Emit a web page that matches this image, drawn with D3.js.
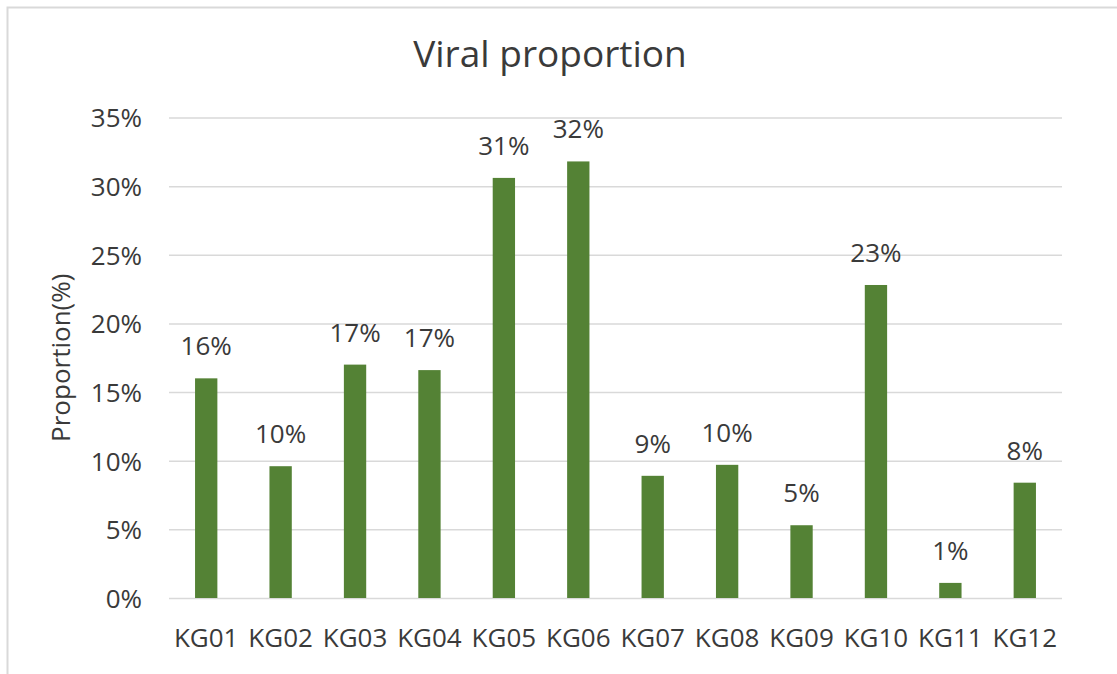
<!DOCTYPE html>
<html>
<head>
<meta charset="utf-8">
<script src="https://cdn.jsdelivr.net/npm/d3@7"></script>
<style>
  html, body { margin: 0; padding: 0; background: #fff; }
  svg { display: block; }
  text { font-family: "Open Sans", "Noto Sans", sans-serif; fill: #3a3a3a; }
</style>
</head>
<body>
<svg id="chart" width="1117" height="674"></svg>
<script>
// Viral proportion per sample group
const categories = ["KG01", "KG02", "KG03", "KG04", "KG05", "KG06", "KG07", "KG08", "KG09", "KG10", "KG11", "KG12"];
const proportions = [0.160, 0.096, 0.170, 0.166, 0.306, 0.318, 0.089, 0.097, 0.053, 0.228, 0.011, 0.084];
const yTicks = [0, 0.05, 0.10, 0.15, 0.20, 0.25, 0.30, 0.35];
const chartTitle = "Viral proportion";
const yTitle = "Proportion(%)";

const svg = d3.select("#chart");
const W = 1117, H = 674;
const plot = { left: 169, right: 1062, top: 117.5, bottom: 598 };

// outer frame (top and left edges visible)
svg.append("path")
  .attr("d", `M7.5,${H} V7.5 H${W}`)
  .attr("fill", "none")
  .attr("stroke", "#d9d9d9")
  .attr("stroke-width", 2);

const x = d3.scaleBand()
  .domain(categories)
  .range([plot.left, plot.right])
  .paddingInner(0.70)
  .paddingOuter(0.35);

const y = d3.scaleLinear()
  .domain([0, 0.35])
  .range([plot.bottom, plot.top]);

const pct = d3.format(".0%");

// horizontal gridlines + tick labels
const yAxis = d3.axisLeft(y)
  .tickValues(yTicks)
  .tickFormat(pct)
  .tickSize(-(plot.right - plot.left))
  .tickPadding(27);

const gy = svg.append("g")
  .attr("transform", `translate(${plot.left},0)`)
  .call(yAxis);
gy.select(".domain").remove();
gy.selectAll(".tick line").attr("stroke", "#d9d9d9").attr("stroke-width", 1.5);
gy.selectAll(".tick text")
  .attr("font-size", 26)
  .attr("fill", "#3a3a3a")
  .attr("dy", "0.36em");

// category axis labels
const xAxis = d3.axisBottom(x).tickSize(0).tickPadding(31);
const gx = svg.append("g")
  .attr("transform", `translate(0,${plot.bottom})`)
  .call(xAxis);
gx.select(".domain").remove();
gx.selectAll(".tick text")
  .attr("font-size", 26)
  .attr("fill", "#3a3a3a");

// bars
svg.append("g")
  .selectAll("rect")
  .data(proportions)
  .join("rect")
  .attr("x", (d, i) => x(categories[i]))
  .attr("width", x.bandwidth())
  .attr("y", d => y(d))
  .attr("height", d => y(0) - y(d))
  .attr("fill", "#548235");

// value labels
svg.append("g")
  .selectAll("text")
  .data(proportions)
  .join("text")
  .attr("x", (d, i) => x(categories[i]) + x.bandwidth() / 2)
  .attr("y", d => y(d) - 23)
  .attr("text-anchor", "middle")
  .attr("font-size", 26)
  .text(d => pct(d));

// title
svg.append("text")
  .attr("x", 550)
  .attr("y", 67)
  .attr("text-anchor", "middle")
  .attr("font-size", 37)
  .text(chartTitle);

// y axis title
svg.append("text")
  .attr("transform", `translate(70,${(plot.top + plot.bottom) / 2}) rotate(-90)`)
  .attr("text-anchor", "middle")
  .attr("font-size", 26)
  .text(yTitle);
</script>
</body>
</html>
